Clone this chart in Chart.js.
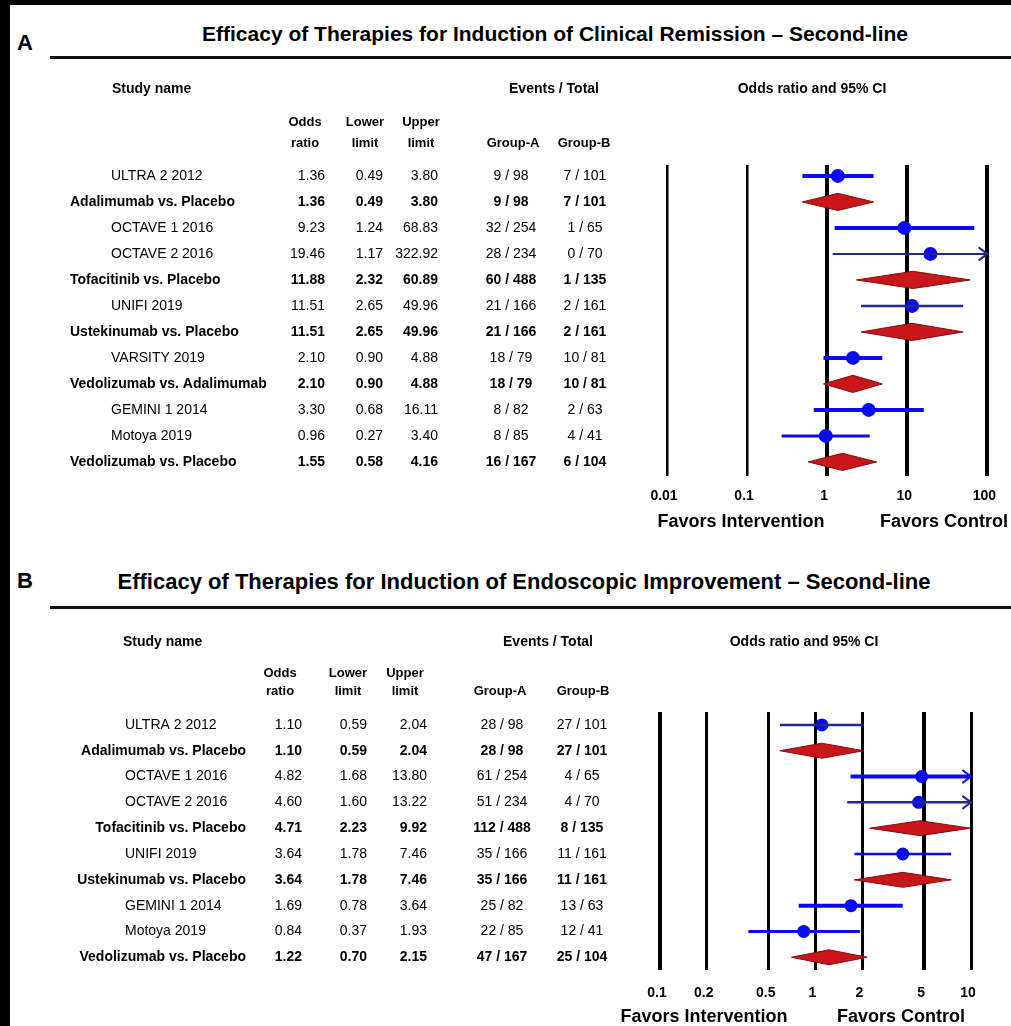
<!DOCTYPE html>
<html>
<head>
<meta charset="utf-8">
<title>Second-line therapies – forest plots</title>
<script src="https://cdn.jsdelivr.net/npm/chart.js@4.4.1/dist/chart.umd.min.js"></script>
<style>
  html, body { margin: 0; padding: 0; background: #fff; }
  #page { position: relative; width: 1011px; height: 1026px; overflow: hidden; background: #fff;
          font-family: 'Liberation Sans', Arial, Helvetica, sans-serif; color: #000; }
  .edge-top { position: absolute; left: 0; top: 0; width: 1011px; height: 5px; background: #000; }
  .edge-left { position: absolute; left: 0; top: 0; width: 10px; height: 1026px; background: #000; }
  .letter { position: absolute; font-weight: bold; font-size: 22px; transform: translateY(-50%); }
  .title { position: absolute; font-weight: bold; white-space: nowrap; transform: translate(-50%, -50%); }
  .rule { position: absolute; left: 50px; width: 961px; height: 3px; background: #111; }
  .wrap { position: absolute; left: 0; width: 1011px; }
  canvas { display: block; }
</style>
</head>
<body>
<div id="page">
  <div class="edge-top"></div>
  <div class="edge-left"></div>

  <div class="letter" style="left:17px;top:43px;">A</div>
  <div class="title" style="left:555px;top:34px;font-size:21px;">Efficacy of Therapies for Induction of Clinical Remission – Second-line</div>
  <div class="rule" style="top:56px;"></div>
  <div class="wrap" style="top:60px;height:480px;"><canvas id="chartA" width="1011" height="480"></canvas></div>

  <div class="letter" style="left:17px;top:581px;">B</div>
  <div class="title" style="left:524px;top:582px;font-size:22px;">Efficacy of Therapies for Induction of Endoscopic Improvement – Second-line</div>
  <div class="rule" style="top:606px;"></div>
  <div class="wrap" style="top:615px;height:411px;"><canvas id="chartB" width="1011" height="411"></canvas></div>
</div>

<script>
// ---------- Panel A: clinical remission ----------
const namesA = ["ULTRA 2 2012", "Adalimumab vs. Placebo", "OCTAVE 1 2016", "OCTAVE 2 2016",
  "Tofacitinib vs. Placebo", "UNIFI 2019", "Ustekinumab vs. Placebo", "VARSITY 2019",
  "Vedolizumab vs. Adalimumab", "GEMINI 1 2014", "Motoya 2019", "Vedolizumab vs. Placebo"];
const pooledA = [false, true, false, false, true, false, true, false, true, false, false, true];
const oddsA  = [1.36, 1.36, 9.23, 19.46, 11.88, 11.51, 11.51, 2.10, 2.10, 3.30, 0.96, 1.55];
const lowerA = [0.49, 0.49, 1.24, 1.17, 2.32, 2.65, 2.65, 0.90, 0.90, 0.68, 0.27, 0.58];
const upperA = [3.80, 3.80, 68.83, 322.92, 60.89, 49.96, 49.96, 4.88, 4.88, 16.11, 3.40, 4.16];
const eventsGroupA_A = [9, 9, 32, 28, 60, 21, 21, 18, 18, 8, 8, 16];
const totalGroupA_A  = [98, 98, 254, 234, 488, 166, 166, 79, 79, 82, 85, 167];
const eventsGroupB_A = [7, 7, 1, 0, 1, 2, 2, 10, 10, 2, 4, 6];
const totalGroupB_A  = [101, 101, 65, 70, 135, 161, 161, 81, 81, 63, 41, 104];
const tickValuesA = [0.01, 0.1, 1, 10, 100];
const tickLabelsA = ["0.01", "0.1", "1", "10", "100"];

// ---------- Panel B: endoscopic improvement ----------
const namesB = ["ULTRA 2 2012", "Adalimumab vs. Placebo", "OCTAVE 1 2016", "OCTAVE 2 2016",
  "Tofacitinib vs. Placebo", "UNIFI 2019", "Ustekinumab vs. Placebo", "GEMINI 1 2014",
  "Motoya 2019", "Vedolizumab vs. Placebo"];
const pooledB = [false, true, false, false, true, false, true, false, false, true];
const oddsB  = [1.10, 1.10, 4.82, 4.60, 4.71, 3.64, 3.64, 1.69, 0.84, 1.22];
const lowerB = [0.59, 0.59, 1.68, 1.60, 2.23, 1.78, 1.78, 0.78, 0.37, 0.70];
const upperB = [2.04, 2.04, 13.80, 13.22, 9.92, 7.46, 7.46, 3.64, 1.93, 2.15];
const eventsGroupA_B = [28, 28, 61, 51, 112, 35, 35, 25, 22, 47];
const totalGroupA_B  = [98, 98, 254, 234, 488, 166, 166, 82, 85, 167];
const eventsGroupB_B = [27, 27, 4, 4, 8, 11, 11, 13, 12, 25];
const totalGroupB_B  = [101, 101, 65, 70, 135, 161, 161, 63, 41, 104];
const tickValuesB = [0.1, 0.2, 0.5, 1, 2, 5, 10];
const tickLabelsB = ["0.1", "0.2", "0.5", "1", "2", "5", "10"];

// ---------- styling ----------
const FONT = "'Liberation Sans', Arial, Helvetica, sans-serif";
const BLUE = '#0a0af0';
const NAVY = '#1f2a8c';
const RED = '#c8161a';
const DARK_RED = '#8a0a0a';
Chart.defaults.font.family = FONT;
Chart.defaults.color = '#000';

// Per-row stroke for the study confidence intervals (pooled rows use diamonds)
const ciWidthA = [4, 0, 4, 2, 0, 2.5, 0, 4, 0, 4, 3, 0];
const ciColorA = [BLUE, null, BLUE, NAVY, null, NAVY, null, BLUE, null, BLUE, BLUE, null];
const ciWidthB = [2.5, 0, 4, 2.5, 0, 2.5, 0, 4, 3, 0];
const ciColorB = [NAVY, null, BLUE, NAVY, null, BLUE, null, BLUE, BLUE, null];
const gridWidthA = [2.5, 2.5, 4, 4, 4];
const gridWidthB = [4, 3, 3, 3, 3, 4, 3];

const panelA = {
  canvas: 'chartA', canvasTop: 60,
  names: namesA, pooled: pooledA, odds: oddsA, lower: lowerA, upper: upperA,
  evA: eventsGroupA_A, totA: totalGroupA_A, evB: eventsGroupB_A, totB: totalGroupB_A,
  ticks: tickValuesA, tickLabels: tickLabelsA, gridWidth: gridWidthA,
  ciWidth: ciWidthA, ciColor: ciColorA,
  yMin: -0.42, yMax: 11.55, diamondHalf: 0.33, dotRadius: 7,
  padding: { left: 667, right: 20, top: 105, bottom: 23 }, tickPadding: 12,
  cols: { nameX: 111, pooledX: 70, pooledAlign: 'left', orX: 325, loX: 383, hiX: 438, gaX: 511, gbX: 585 },
  head: { studyX: 112, eventsX: 554, ciX: 812, y1: 89, orX: 305, loX: 365, hiX: 421, gaX: 513, gbX: 584, y2: 122, y3: 143 },
  favors: { y: 522, leftX: 741, rightX: 944 }
};
const panelB = {
  canvas: 'chartB', canvasTop: 615,
  names: namesB, pooled: pooledB, odds: oddsB, lower: lowerB, upper: upperB,
  evA: eventsGroupA_B, totA: totalGroupA_B, evB: eventsGroupB_B, totB: totalGroupB_B,
  ticks: tickValuesB, tickLabels: tickLabelsB, gridWidth: gridWidthB,
  ciWidth: ciWidthB, ciColor: ciColorB,
  yMin: -0.5, yMax: 9.5, diamondHalf: 0.29, dotRadius: 6.5,
  padding: { left: 660, right: 40, top: 97, bottom: 10 }, tickPadding: 14.5,
  cols: { nameX: 125, pooledX: 246, pooledAlign: 'right', orX: 302, loX: 367, hiX: 427, gaX: 502, gbX: 582 },
  head: { studyX: 123, eventsX: 548, ciX: 804, y1: 642, orX: 280, loX: 348, hiX: 405, gaX: 500, gbX: 583, y2: 673, y3: 691 },
  favors: { y: 1017, leftX: 704, rightX: 901 }
};

function buildDatasets(p) {
  const xMax = p.ticks[p.ticks.length - 1];
  const sets = [];
  p.names.forEach((name, i) => {
    const hi = Math.min(p.upper[i], xMax);
    if (p.pooled[i]) {
      // summary estimate: closed diamond from lower to upper limit
      sets.push({
        label: name,
        data: [
          { x: p.lower[i], y: i },
          { x: p.odds[i], y: i - p.diamondHalf },
          { x: hi, y: i },
          { x: p.odds[i], y: i + p.diamondHalf },
          { x: p.lower[i], y: i }
        ],
        showLine: true, fill: 'shape', tension: 0,
        backgroundColor: RED, borderColor: DARK_RED, borderWidth: 1,
        pointRadius: 0, pointHoverRadius: 0
      });
    } else {
      // study confidence interval
      sets.push({
        label: name,
        data: [{ x: p.lower[i], y: i }, { x: hi, y: i }],
        showLine: true, fill: false,
        borderColor: p.ciColor[i], borderWidth: p.ciWidth[i], borderCapStyle: 'butt',
        pointRadius: 0, pointHoverRadius: 0
      });
    }
  });
  // study point estimates
  sets.push({
    label: 'Odds ratio',
    data: p.names.map((n, i) => p.pooled[i] ? null : { x: p.odds[i], y: i }).filter(Boolean),
    showLine: false,
    pointRadius: p.dotRadius, pointHoverRadius: p.dotRadius,
    pointBackgroundColor: BLUE, pointBorderWidth: 0, pointBorderColor: BLUE
  });
  return sets;
}

function makeChart(p) {
  const xMax = p.ticks[p.ticks.length - 1];

  // open arrowhead where an interval runs past the axis
  const arrowPlugin = {
    id: 'ciArrows',
    afterDatasetsDraw(chart) {
      const xs = chart.scales.x, ys = chart.scales.y, ctx = chart.ctx;
      p.names.forEach((n, i) => {
        if (p.pooled[i] || p.upper[i] <= xMax) return;
        const tipX = xs.getPixelForValue(xMax);
        const y = ys.getPixelForValue(i);
        ctx.save();
        ctx.strokeStyle = p.ciColor[i];
        ctx.lineWidth = 2;
        ctx.lineCap = 'round';
        ctx.beginPath();
        ctx.moveTo(tipX - 8, y - 6);
        ctx.lineTo(tipX, y);
        ctx.lineTo(tipX - 8, y + 6);
        ctx.stroke();
        ctx.restore();
      });
    }
  };

  // study table, column headings and direction labels
  const tablePlugin = {
    id: 'forestTable',
    afterDraw(chart) {
      const ctx = chart.ctx, ys = chart.scales.y, c = p.cols, h = p.head;
      const top = p.canvasTop;
      const text = (s, x, y, align, font) => {
        ctx.font = font; ctx.textAlign = align; ctx.fillText(s, x, y);
      };
      ctx.save();
      ctx.fillStyle = '#000';
      ctx.textBaseline = 'middle';
      const topHead = `bold 14px ${FONT}`;
      const colHead = `bold 13px ${FONT}`;
      text('Study name', h.studyX, h.y1 - top, 'left', topHead);
      text('Events / Total', h.eventsX, h.y1 - top, 'center', topHead);
      text('Odds ratio and 95% CI', h.ciX, h.y1 - top, 'center', topHead);
      text('Odds', h.orX, h.y2 - top, 'center', colHead);
      text('ratio', h.orX, h.y3 - top, 'center', colHead);
      text('Lower', h.loX, h.y2 - top, 'center', colHead);
      text('limit', h.loX, h.y3 - top, 'center', colHead);
      text('Upper', h.hiX, h.y2 - top, 'center', colHead);
      text('limit', h.hiX, h.y3 - top, 'center', colHead);
      text('Group-A', h.gaX, h.y3 - top, 'center', colHead);
      text('Group-B', h.gbX, h.y3 - top, 'center', colHead);

      p.names.forEach((name, i) => {
        const y = ys.getPixelForValue(i);
        const f = p.pooled[i] ? `bold 14px ${FONT}` : `14px ${FONT}`;
        if (p.pooled[i]) text(name, c.pooledX, y, c.pooledAlign, f);
        else text(name, c.nameX, y, 'left', f);
        text(p.odds[i].toFixed(2), c.orX, y, 'right', f);
        text(p.lower[i].toFixed(2), c.loX, y, 'right', f);
        text(p.upper[i].toFixed(2), c.hiX, y, 'right', f);
        text(`${p.evA[i]} / ${p.totA[i]}`, c.gaX, y, 'center', f);
        text(`${p.evB[i]} / ${p.totB[i]}`, c.gbX, y, 'center', f);
      });

      const ff = `bold 18px ${FONT}`;
      text('Favors Intervention', p.favors.leftX, p.favors.y - top, 'center', ff);
      text('Favors Control', p.favors.rightX, p.favors.y - top, 'center', ff);
      ctx.restore();
    }
  };

  return new Chart(document.getElementById(p.canvas), {
    type: 'scatter',
    data: { datasets: buildDatasets(p) },
    options: {
      responsive: false,
      animation: false,
      events: [],
      layout: { padding: p.padding },
      plugins: { legend: { display: false }, tooltip: { enabled: false }, title: { display: false } },
      scales: {
        x: {
          type: 'logarithmic',
          min: p.ticks[0],
          max: xMax,
          afterBuildTicks: (scale) => { scale.ticks = p.ticks.map(v => ({ value: v, major: true })); },
          ticks: {
            autoSkip: false, maxRotation: 0, minRotation: 0,
            padding: p.tickPadding, labelOffset: -3,
            font: { size: 14, weight: 'bold' }, color: '#000',
            callback: (value) => p.tickLabels[p.ticks.indexOf(value)] ?? ''
          },
          grid: {
            color: '#000', drawTicks: false,
            lineWidth: (ctx) => p.gridWidth[ctx.index] ?? 0
          },
          border: { display: false }
        },
        y: {
          type: 'linear', reverse: true, min: p.yMin, max: p.yMax,
          display: false, grid: { display: false }
        }
      }
    },
    plugins: [arrowPlugin, tablePlugin]
  });
}

makeChart(panelA);
makeChart(panelB);
</script>
</body>
</html>
